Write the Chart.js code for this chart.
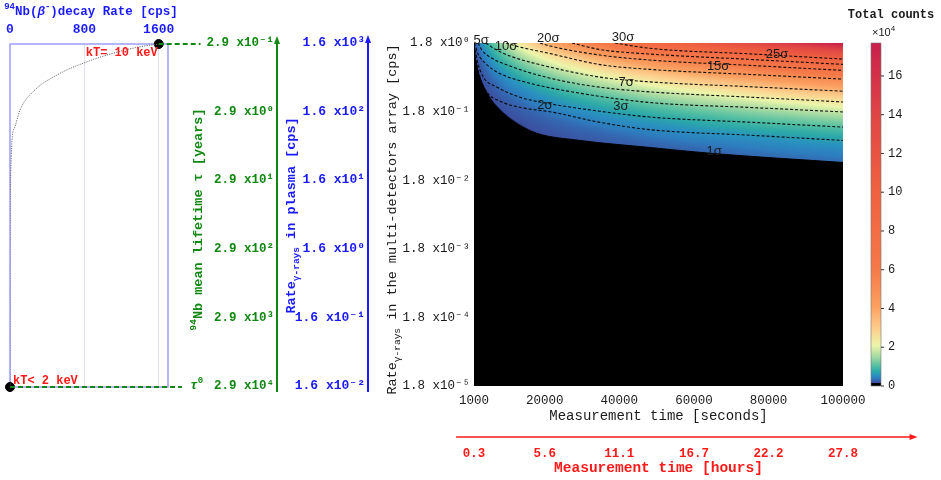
<!DOCTYPE html>
<html>
<head>
<meta charset="utf-8">
<script src="https://cdn.jsdelivr.net/npm/chart.js@4.4.1/dist/chart.umd.min.js"></script>
<style>
  body { margin: 0; background: #fff; }
  #wrap { position: relative; width: 941px; height: 480px; overflow: hidden; }
  canvas { position: absolute; top: 0; }
  #mainCanvas { left: 170px; }
  #leftCanvas { left: 0; }
</style>
</head>
<body>
<div id="wrap">
  <canvas id="mainCanvas" width="771" height="480"></canvas>
  <canvas id="leftCanvas" width="215" height="480"></canvas>
</div>
<script>
// ---- axis ticks / labels ----
const secTicks = [1000, 20000, 40000, 60000, 80000, 100000];
const secLabels = ['1000', '20000', '40000', '60000', '80000', '100000'];
const hourLabels = ['0.3', '5.6', '11.1', '16.7', '22.2', '27.8'];
const hourSpan = [-3800, 120000];           // extent of the red arrow, in seconds
const rateTicks = [1.8, 0.18, 0.018, 0.0018, 0.00018, 0.000018];
const rateLabels = ['1.8 x10⁰', '1.8 x10⁻¹', '1.8 x10⁻²', '1.8 x10⁻³', '1.8 x10⁻⁴', '1.8 x10⁻⁵'];
const plasmaTicks = [1600, 160, 16, 1.6, 0.16, 0.016];
const plasmaLabels = ['1.6 x10³', '1.6 x10²', '1.6 x10¹', '1.6 x10⁰', '1.6 x10⁻¹', '1.6 x10⁻²'];
const tauTicks = [0.29, 2.9, 29, 290, 2900, 29000];
const tauLabels = ['2.9 x10⁻¹', '2.9 x10⁰', '2.9 x10¹', '2.9 x10²', '2.9 x10³', '2.9 x10⁴'];
const decayTicks = [0, 800, 1600];
const decayLabels = ['0', '800', '1600'];
const countTicks = [0, 2, 4, 6, 8, 10, 12, 14, 16];   // x10^4
const countMax = 17.7;

// ---- colour map of the colorbar (value in 10^4 counts) ----
const countStops = [0, 0.15, 0.16, 0.3, 0.4, 0.55, 0.75, 1.05, 1.5, 2.1, 2.9, 4.1, 6.1, 10.2, 14, 17.7];
const countColors = ['#000000', '#000000', '#3a4f9f', '#3566b0', '#2d7dbe', '#2a90c0', '#2ba8a8', '#55c0a2',
  '#a3d9a2', '#ecf5aa', '#fdd08e', '#fba060', '#f57848', '#ef6040', '#e04545', '#c8204c'];

// ---- significance contours [time s, rate cps] ----
const sigma30 = [[38800, 1.8], [48200, 1.506], [75000, 1.25], [100000, 1.05]];
const sigma25 = [[27300, 1.8], [34800, 1.445], [48200, 1.242], [75000, 1.039], [100000, 0.878]];
const sigma20 = [[18700, 1.8], [21400, 1.627], [34800, 1.201], [48200, 1.015], [75000, 0.849], [100000, 0.717]];
const sigma15 = [[9600, 1.8], [13300, 1.573], [21400, 1.263], [34800, 0.872], [48200, 0.742], [75000, 0.626], [100000, 0.535]];
const sigma10 = [[4200, 1.8], [6600, 1.47], [10700, 1.161], [21400, 0.802], [34800, 0.572], [48200, 0.488], [75000, 0.415], [100000, 0.357]];
const sigma7 = [[2100, 1.8], [3100, 1.422], [5300, 1.123], [10700, 0.829], [21400, 0.553], [34800, 0.408], [48200, 0.349], [75000, 0.292], [100000, 0.249]];
const sigma5 = [[1080, 1.8], [2100, 1.242], [4000, 0.917], [7200, 0.677], [16000, 0.467], [29400, 0.334], [48200, 0.244], [75000, 0.207], [100000, 0.178]];
const sigma3 = [[1300, 1.422], [2100, 0.887], [3700, 0.553], [7200, 0.408], [13300, 0.292], [20600, 0.238], [34800, 0.182], [48200, 0.150], [75000, 0.126], [100000, 0.107]];
const sigma2 = [[1500, 1.015], [2600, 0.572], [4500, 0.345], [8000, 0.255], [13300, 0.208], [22200, 0.176], [34800, 0.1255], [48200, 0.0981], [75000, 0.0815], [100000, 0.0684]];
const limit1 = [[1000, 1.8], [1500, 0.949], [2100, 0.592], [2900, 0.395], [4200, 0.282], [7200, 0.201], [11500, 0.1255], [17900, 0.0866], [29400, 0.0684], [48200, 0.054], [65100, 0.0441], [100000, 0.0326]];

const sigmaText = ['5σ', '10σ', '20σ', '30σ', '25σ', '15σ', '7σ', '3σ', '2σ', '1σ'];
const sigmaTime = [2900, 9600, 20900, 41000, 82300, 66500, 41800, 40400, 20000, 65400];
const sigmaRate = [1.99, 1.61, 2.13, 2.17, 1.242, 0.829, 0.483, 0.215, 0.220, 0.048];

// ---- left panel: decay rate vs mean lifetime ----
const curveRate = [0.016, 0.5, 5.4, 21.5, 54, 108, 247, 506, 785, 1108, 1399, 1600];
const curveTau = [29000, 290, 27.7, 7.3, 4.65, 2.66, 1.44, 0.82, 0.554, 0.396, 0.318, 0.29];
const stateRate = [1600, 0];
const stateTau = [0.29, 29000];
const linkTopRate = [1600, 2050];
const linkBottomRate = [0, 1850];

const GREEN = '#118811', BLUE = '#1a1aff', RED = '#ff1a1a', INK = '#1a1a1a';
const MONO = '"Liberation Mono", "DejaVu Sans Mono", monospace';

Chart.defaults.font.family = MONO;
Chart.defaults.animation = false;

function setTicks(values) { return scale => { scale.ticks = values.map(v => ({ value: v })); }; }
function fixWidth(w) { return scale => { scale.width = w; }; }
function fixHeight(h) { return scale => { scale.height = h; }; }
function toXY(pairs) { return pairs.map(p => ({ x: p[0], y: p[1] })); }

function drawRich(ctx, parts, cx, cy, color, vertical) {
  ctx.save();
  ctx.translate(cx, cy);
  if (vertical) ctx.rotate(-Math.PI / 2);
  ctx.fillStyle = color;
  ctx.textBaseline = 'middle';
  ctx.textAlign = 'left';
  let total = 0;
  const widths = parts.map(p => { ctx.font = p.font; const w = ctx.measureText(p.text).width; total += w; return w; });
  let x = -total / 2;
  parts.forEach((p, i) => { ctx.font = p.font; ctx.fillText(p.text, x, p.dy || 0); x += widths[i]; });
  ctx.restore();
}

function arrowUp(ctx, x, yTip, yEnd, color, lw) {
  ctx.save();
  ctx.strokeStyle = color; ctx.fillStyle = color; ctx.lineWidth = lw;
  ctx.beginPath(); ctx.moveTo(x, yEnd); ctx.lineTo(x, yTip + 5); ctx.stroke();
  ctx.beginPath(); ctx.moveTo(x, yTip); ctx.lineTo(x - 3, yTip + 8); ctx.lineTo(x + 3, yTip + 8); ctx.closePath(); ctx.fill();
  ctx.restore();
}

const cmapRGB = countColors.map(h => [parseInt(h.slice(1, 3), 16), parseInt(h.slice(3, 5), 16), parseInt(h.slice(5, 7), 16)]);
function countColor(c) {
  if (c <= countStops[0]) return cmapRGB[0];
  for (let k = 0; k < countStops.length - 1; k++) {
    if (c <= countStops[k + 1]) {
      const f = (c - countStops[k]) / (countStops[k + 1] - countStops[k]);
      const a = cmapRGB[k], b = cmapRGB[k + 1];
      return [a[0] + (b[0] - a[0]) * f, a[1] + (b[1] - a[1]) * f, a[2] + (b[2] - a[2]) * f];
    }
  }
  return cmapRGB[cmapRGB.length - 1];
}

// colour field: total counts = rate x measurement time, on the chart's own scales
const fieldPlugin = {
  id: 'countField',
  beforeDatasetsDraw(chart) {
    const { ctx, chartArea: a, scales } = chart;
    const w = Math.round(a.right - a.left), h = Math.round(a.bottom - a.top);
    const off = document.createElement('canvas');
    off.width = w; off.height = h;
    const octx = off.getContext('2d');
    const img = octx.createImageData(w, h);
    const ts = [];
    for (let i = 0; i < w; i++) ts.push(scales.x.getValueForPixel(a.left + i + 0.5));
    for (let j = 0; j < h; j++) {
      const r = scales.y.getValueForPixel(a.top + j + 0.5);
      for (let i = 0; i < w; i++) {
        const c = countColor(ts[i] * r / 1e4);
        const k = (j * w + i) * 4;
        img.data[k] = c[0]; img.data[k + 1] = c[1]; img.data[k + 2] = c[2]; img.data[k + 3] = 255;
      }
    }
    octx.putImageData(img, 0, 0);
    ctx.drawImage(off, a.left, a.top, w, h);
  },
  afterDatasetsDraw(chart) {
    const { ctx, scales } = chart;
    ctx.save();
    ctx.fillStyle = INK;
    ctx.font = '13px "Liberation Sans", sans-serif';
    ctx.textAlign = 'center';
    ctx.textBaseline = 'middle';
    sigmaText.forEach((s, i) => {
      ctx.fillText(s, scales.x.getPixelForValue(sigmaTime[i]), scales.y.getPixelForValue(sigmaRate[i]));
    });
    ctx.restore();
  }
};

const overlayPlugin = {
  id: 'overlay',
  afterDraw(chart) {
    const { ctx, chartArea: a, scales } = chart;
    const midY = (a.top + a.bottom) / 2 + 5;
    // extra vertical axes with arrows
    arrowUp(ctx, scales.yTau.right, a.top - 7, a.bottom + 6, GREEN, 2);
    arrowUp(ctx, scales.yPlasma.right, a.top - 8, a.bottom + 6, BLUE, 2);
    // rotated axis titles
    drawRich(ctx, [
      { text: '94', font: 'bold 9.5px ' + MONO, dy: -5 },
      { text: 'Nb mean lifetime τ [years]', font: 'bold 13.5px ' + MONO }
    ], scales.yTau.left + 29, midY, GREEN, true);
    drawRich(ctx, [
      { text: 'Rate', font: 'bold 13.5px ' + MONO },
      { text: 'γ-rays', font: 'bold 9.5px ' + MONO, dy: 5 },
      { text: ' in plasma [cps]', font: 'bold 13.5px ' + MONO }
    ], scales.yPlasma.left + 15, midY - 4, BLUE, true);
    drawRich(ctx, [
      { text: 'Rate', font: '13.5px ' + MONO },
      { text: 'γ-rays', font: '9.5px ' + MONO, dy: 5 },
      { text: ' in the multi-detectors array [cps]', font: '13.5px ' + MONO }
    ], scales.y.left + 24, midY, INK, true);
    // red hours arrow
    const xh = scales.xh;
    const ly = xh.top + 10;
    const x0 = xh.getPixelForValue(hourSpan[0]), x1 = xh.getPixelForValue(hourSpan[1]);
    ctx.save();
    ctx.strokeStyle = RED; ctx.fillStyle = RED; ctx.lineWidth = 1.5;
    ctx.beginPath(); ctx.moveTo(x0, ly); ctx.lineTo(x1 - 5, ly); ctx.stroke();
    ctx.beginPath(); ctx.moveTo(x1, ly); ctx.lineTo(x1 - 8, ly - 3); ctx.lineTo(x1 - 8, ly + 3); ctx.closePath(); ctx.fill();
    ctx.restore();
    // colorbar
    const cs = scales.yCounts;
    const bx = cs.left + 28, bw = 10;
    const yb = cs.getPixelForValue(0), yt = cs.getPixelForValue(countMax);
    const grad = ctx.createLinearGradient(0, yb, 0, yt);
    countStops.forEach((v, i) => grad.addColorStop(v / countMax, countColors[i]));
    ctx.save();
    ctx.fillStyle = grad;
    ctx.fillRect(bx, yt, bw, yb - yt);
    ctx.strokeStyle = '#777'; ctx.lineWidth = 0.6;
    ctx.strokeRect(bx, yt, bw, yb - yt);
    ctx.strokeStyle = '#333'; ctx.lineWidth = 1;
    countTicks.forEach(v => {
      const py = cs.getPixelForValue(v);
      ctx.beginPath(); ctx.moveTo(bx + bw, py); ctx.lineTo(bx + bw + 3, py); ctx.stroke();
    });
    ctx.fillStyle = INK;
    ctx.textAlign = 'center'; ctx.textBaseline = 'middle';
    ctx.font = 'bold 12px ' + MONO;
    ctx.fillText('Total counts', cs.left + 48, 15);
    ctx.textAlign = 'left';
    ctx.font = '11px "Liberation Sans", sans-serif';
    ctx.fillText('×10', bx + 1, 33);
    const wx = ctx.measureText('×10').width;
    ctx.font = '8px "Liberation Sans", sans-serif';
    ctx.fillText('4', bx + 1 + wx, 29);
    ctx.restore();
  }
};

const contourLines = [sigma30, sigma25, sigma20, sigma15, sigma10, sigma7, sigma5, sigma3, sigma2];

new Chart(document.getElementById('mainCanvas'), {
  type: 'line',
  data: {
    datasets: [
      { label: '1σ', data: toXY(limit1), borderColor: '#000', backgroundColor: '#000', borderWidth: 1,
        fill: 'start', pointRadius: 0, cubicInterpolationMode: 'monotone' }
    ].concat(contourLines.map(line => ({
      data: toXY(line), borderColor: 'rgba(5,5,5,0.95)', borderWidth: 1.1, borderDash: [3, 2],
      fill: false, pointRadius: 0, cubicInterpolationMode: 'monotone'
    })))
  },
  options: {
    responsive: false,
    animation: false,
    layout: { padding: { top: 43, left: 0, right: 0, bottom: 0 } },
    plugins: { legend: { display: false }, tooltip: { enabled: false } },
    scales: {
      x: {
        type: 'linear', position: 'bottom', weight: 0, min: 1000, max: 100000,
        afterBuildTicks: setTicks(secTicks), afterFit: fixHeight(41),
        grid: { display: false, drawTicks: false }, border: { display: false },
        ticks: { color: INK, font: { size: 12.5 }, padding: 7, maxRotation: 0, autoSkip: false,
          callback: (v, i) => secLabels[i] },
        title: { display: true, text: 'Measurement time [seconds]', color: INK, font: { size: 14 },
          padding: { top: 0, bottom: 2 } }
      },
      xh: {
        type: 'linear', position: 'bottom', weight: 1, min: 1000, max: 100000,
        afterBuildTicks: setTicks(secTicks), afterFit: fixHeight(53),
        grid: { display: false, drawTicks: false }, border: { display: false },
        ticks: { color: RED, font: { size: 12.5, weight: 'bold' }, padding: 19, maxRotation: 0, autoSkip: false,
          callback: (v, i) => hourLabels[i] },
        title: { display: true, text: 'Measurement time [hours]', color: RED, font: { size: 14.5, weight: 'bold' },
          padding: { top: 0, bottom: 3 } }
      },
      y: {
        type: 'logarithmic', position: 'left', weight: 1, min: 0.000018, max: 1.8,
        afterBuildTicks: setTicks(rateTicks), afterFit: fixWidth(106),
        grid: { display: false, drawTicks: false }, border: { display: false },
        ticks: { color: INK, font: { size: 12.5 }, padding: 4, autoSkip: false, callback: (v, i) => rateLabels[i] }
      },
      yPlasma: {
        type: 'logarithmic', position: 'left', weight: 2, min: 0.016, max: 1600,
        afterBuildTicks: setTicks(plasmaTicks), afterFit: fixWidth(91),
        grid: { display: false, drawTicks: false }, border: { display: false },
        ticks: { color: BLUE, font: { size: 13, weight: 'bold' }, padding: 3, autoSkip: false,
          callback: (v, i) => plasmaLabels[i] }
      },
      yTau: {
        type: 'logarithmic', position: 'left', weight: 3, reverse: true, min: 0.29, max: 29000,
        afterBuildTicks: setTicks(tauTicks), afterFit: fixWidth(107),
        grid: { display: false, drawTicks: false }, border: { display: false },
        ticks: { color: GREEN, font: { size: 12.5, weight: 'bold' }, padding: 3, autoSkip: false,
          callback: (v, i) => tauLabels[i] }
      },
      yCounts: {
        type: 'linear', position: 'right', min: 0, max: countMax,
        afterBuildTicks: setTicks(countTicks), afterFit: fixWidth(98),
        // invisible long tick marks push the labels right of the colorbar
        grid: { display: true, drawOnChartArea: false, drawTicks: true, tickLength: 44, color: 'rgba(0,0,0,0)' },
        border: { display: false },
        ticks: { color: INK, font: { size: 12 }, padding: 1, autoSkip: false, callback: v => String(v) }
      }
    }
  },
  plugins: [fieldPlugin, overlayPlugin]
});

// ---- left panel ----
const leftPlugin = {
  id: 'leftBox',
  beforeDatasetsDraw(chart) {
    const { ctx, chartArea: a } = chart;
    ctx.save();
    ctx.strokeStyle = '#9090ff'; ctx.lineWidth = 1.3;
    ctx.strokeRect(a.left, a.top, a.right - a.left, a.bottom - a.top);
    ctx.restore();
  },
  afterDraw(chart) {
    const { ctx, scales, chartArea: a } = chart;
    const x = scales.x, y = scales.y;
    // top axis title with superscripts
    drawRich(ctx, [
      { text: '94', font: 'bold 9px ' + MONO, dy: -5 },
      { text: 'Nb(', font: 'bold 12.5px ' + MONO },
      { text: 'β', font: 'italic bold 12.5px ' + MONO },
      { text: '-', font: 'bold 9px ' + MONO, dy: -5 },
      { text: ')decay Rate [cps]', font: 'bold 12.5px ' + MONO }
    ], (a.left + a.right) / 2 + 2, 12, BLUE, false);
    ctx.save();
    ctx.fillStyle = RED;
    ctx.font = 'bold 12px ' + MONO;
    ctx.textBaseline = 'middle';
    ctx.textAlign = 'right';
    ctx.fillText('kT= 10 keV', x.getPixelForValue(1590), y.getPixelForValue(0.39));
    ctx.textAlign = 'left';
    ctx.fillText('kT< 2 keV', x.getPixelForValue(32), y.getPixelForValue(23700));
    // tau^0 at the end of the lower link line
    const tx = x.getPixelForValue(linkBottomRate[1]) + 8, ty = y.getPixelForValue(stateTau[1]);
    ctx.fillStyle = GREEN;
    ctx.font = 'italic bold 13px ' + MONO;
    ctx.fillText('τ', tx, ty - 1);
    const tw = ctx.measureText('τ').width;
    ctx.font = 'bold 9px ' + MONO;
    ctx.fillText('0', tx + tw, ty - 6);
    ctx.restore();
  }
};

new Chart(document.getElementById('leftCanvas'), {
  type: 'line',
  data: {
    datasets: [
      { data: curveRate.map((r, i) => ({ x: r, y: curveTau[i] })), borderColor: '#6e6e6e', borderWidth: 1,
        borderDash: [1.2, 1.2], pointRadius: 0, fill: false, cubicInterpolationMode: 'monotone' },
      { data: linkTopRate.map(r => ({ x: r, y: stateTau[0] })), borderColor: GREEN, borderWidth: 2,
        borderDash: [5, 3], pointRadius: 0, fill: false, clip: false },
      { data: linkBottomRate.map(r => ({ x: r, y: stateTau[1] })), borderColor: GREEN, borderWidth: 2,
        borderDash: [5, 3], pointRadius: 0, fill: false, clip: false },
      { data: stateRate.map((r, i) => ({ x: r, y: stateTau[i] })), showLine: false, pointRadius: 4.5,
        pointBackgroundColor: '#000', pointBorderColor: '#000', clip: false }
    ]
  },
  options: {
    responsive: false,
    animation: false,
    layout: { padding: { left: 10, right: 47, top: 0, bottom: 93 } },
    plugins: { legend: { display: false }, tooltip: { enabled: false } },
    scales: {
      x: {
        type: 'linear', position: 'top', min: 0, max: 1700,
        afterBuildTicks: setTicks(decayTicks), afterFit: fixHeight(44),
        grid: { color: c => (c.tick && c.tick.value === 0) ? 'rgba(0,0,0,0)' : '#e0e0f6', drawTicks: false, lineWidth: 1 },
        border: { display: false },
        ticks: { color: BLUE, font: { size: 13, weight: 'bold' }, padding: 6, maxRotation: 0, autoSkip: false,
          callback: (v, i) => decayLabels[i] }
      },
      y: { type: 'logarithmic', reverse: true, min: 0.29, max: 29000, display: false }
    }
  },
  plugins: [leftPlugin]
});
</script>
</body>
</html>
